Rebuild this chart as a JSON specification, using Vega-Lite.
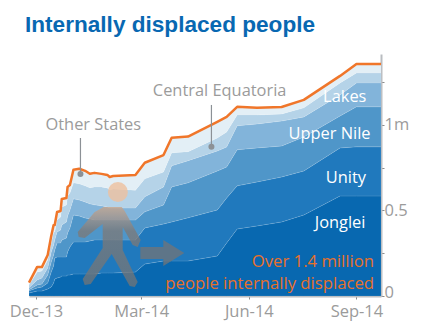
{
  "$schema": "https://vega.github.io/schema/vega-lite/v6.json",
  "autosize": {"type": "none"},
  "width": 352,
  "height": 242,
  "padding": {"left": 29, "top": 54, "right": 46, "bottom": 31},
  "background": "white",
  "title": {
    "text": "Internally displaced people",
    "anchor": "start",
    "frame": "group",
    "dx": -4,
    "offset": 17,
    "font": "Liberation Sans",
    "fontWeight": "bold",
    "fontSize": 22.6,
    "color": "#0868b2"
  },
  "config": {"view": {"stroke": null}},
  "datasets": {
    "states": [
      {"date": "2013-11-25", "Jonglei": 18, "Unity": 12, "Upper Nile": 6, "Lakes": 12, "Central Equatoria": 18, "Other States": 12},
      {"date": "2013-12-02", "Jonglei": 29, "Unity": 18, "Upper Nile": 18, "Lakes": 29, "Central Equatoria": 47, "Other States": 29},
      {"date": "2013-12-06", "Jonglei": 29, "Unity": 23, "Upper Nile": 18, "Lakes": 35, "Central Equatoria": 41, "Other States": 23},
      {"date": "2013-12-11", "Jonglei": 41, "Unity": 35, "Upper Nile": 47, "Lakes": 41, "Central Equatoria": 47, "Other States": 29},
      {"date": "2013-12-14", "Jonglei": 53, "Unity": 88, "Upper Nile": 58, "Lakes": 58, "Central Equatoria": 53, "Other States": 41},
      {"date": "2013-12-16", "Jonglei": 76, "Unity": 99, "Upper Nile": 64, "Lakes": 58, "Central Equatoria": 76, "Other States": 41},
      {"date": "2013-12-17", "Jonglei": 99, "Unity": 123, "Upper Nile": 47, "Lakes": 58, "Central Equatoria": 47, "Other States": 41},
      {"date": "2013-12-19", "Jonglei": 105, "Unity": 123, "Upper Nile": 82, "Lakes": 64, "Central Equatoria": 70, "Other States": 47},
      {"date": "2013-12-22", "Jonglei": 111, "Unity": 117, "Upper Nile": 82, "Lakes": 76, "Central Equatoria": 76, "Other States": 35},
      {"date": "2013-12-23", "Jonglei": 117, "Unity": 111, "Upper Nile": 99, "Lakes": 88, "Central Equatoria": 105, "Other States": 47},
      {"date": "2013-12-27", "Jonglei": 117, "Unity": 111, "Upper Nile": 111, "Lakes": 94, "Central Equatoria": 99, "Other States": 41},
      {"date": "2013-12-28", "Jonglei": 123, "Unity": 135, "Upper Nile": 111, "Lakes": 99, "Central Equatoria": 117, "Other States": 53},
      {"date": "2013-12-30", "Jonglei": 123, "Unity": 164, "Upper Nile": 111, "Lakes": 105, "Central Equatoria": 99, "Other States": 47},
      {"date": "2014-01-02", "Jonglei": 129, "Unity": 187, "Upper Nile": 158, "Lakes": 94, "Central Equatoria": 94, "Other States": 76},
      {"date": "2014-01-07", "Jonglei": 129, "Unity": 187, "Upper Nile": 152, "Lakes": 94, "Central Equatoria": 94, "Other States": 88},
      {"date": "2014-01-12", "Jonglei": 129, "Unity": 187, "Upper Nile": 140, "Lakes": 94, "Central Equatoria": 94, "Other States": 88},
      {"date": "2014-01-16", "Jonglei": 129, "Unity": 193, "Upper Nile": 129, "Lakes": 88, "Central Equatoria": 94, "Other States": 82},
      {"date": "2014-01-20", "Jonglei": 129, "Unity": 199, "Upper Nile": 117, "Lakes": 88, "Central Equatoria": 105, "Other States": 82},
      {"date": "2014-01-26", "Jonglei": 135, "Unity": 193, "Upper Nile": 117, "Lakes": 82, "Central Equatoria": 111, "Other States": 76},
      {"date": "2014-01-31", "Jonglei": 135, "Unity": 193, "Upper Nile": 117, "Lakes": 76, "Central Equatoria": 111, "Other States": 76},
      {"date": "2014-02-02", "Jonglei": 135, "Unity": 193, "Upper Nile": 117, "Lakes": 70, "Central Equatoria": 105, "Other States": 76},
      {"date": "2014-02-05", "Jonglei": 135, "Unity": 193, "Upper Nile": 117, "Lakes": 70, "Central Equatoria": 111, "Other States": 76},
      {"date": "2014-02-24", "Jonglei": 140, "Unity": 187, "Upper Nile": 117, "Lakes": 70, "Central Equatoria": 105, "Other States": 88},
      {"date": "2014-03-04", "Jonglei": 187, "Unity": 211, "Upper Nile": 94, "Lakes": 88, "Central Equatoria": 105, "Other States": 94},
      {"date": "2014-03-20", "Jonglei": 205, "Unity": 216, "Upper Nile": 111, "Lakes": 105, "Central Equatoria": 88, "Other States": 99},
      {"date": "2014-03-27", "Jonglei": 205, "Unity": 228, "Upper Nile": 205, "Lakes": 123, "Central Equatoria": 76, "Other States": 88},
      {"date": "2014-04-10", "Jonglei": 205, "Unity": 252, "Upper Nile": 205, "Lakes": 129, "Central Equatoria": 53, "Other States": 88},
      {"date": "2014-05-05", "Jonglei": 234, "Unity": 269, "Upper Nile": 228, "Lakes": 117, "Central Equatoria": 76, "Other States": 94},
      {"date": "2014-05-13", "Jonglei": 310, "Unity": 263, "Upper Nile": 181, "Lakes": 117, "Central Equatoria": 88, "Other States": 88},
      {"date": "2014-05-22", "Jonglei": 392, "Unity": 252, "Upper Nile": 211, "Lakes": 140, "Central Equatoria": 64, "Other States": 47},
      {"date": "2014-06-08", "Jonglei": 410, "Unity": 257, "Upper Nile": 199, "Lakes": 140, "Central Equatoria": 53, "Other States": 41},
      {"date": "2014-06-29", "Jonglei": 433, "Unity": 263, "Upper Nile": 181, "Lakes": 146, "Central Equatoria": 41, "Other States": 41},
      {"date": "2014-07-18", "Jonglei": 474, "Unity": 257, "Upper Nile": 199, "Lakes": 117, "Central Equatoria": 53, "Other States": 47},
      {"date": "2014-08-18", "Jonglei": 585, "Unity": 281, "Upper Nile": 187, "Lakes": 123, "Central Equatoria": 70, "Other States": 41},
      {"date": "2014-09-01", "Jonglei": 585, "Unity": 287, "Upper Nile": 234, "Lakes": 140, "Central Equatoria": 58, "Other States": 53},
      {"date": "2014-09-22", "Jonglei": 585, "Unity": 287, "Upper Nile": 234, "Lakes": 140, "Central Equatoria": 58, "Other States": 53}
    ],
    "stackOrder": [
      {"state": "Jonglei", "rank": 1},
      {"state": "Unity", "rank": 2},
      {"state": "Upper Nile", "rank": 3},
      {"state": "Lakes", "rank": 4},
      {"state": "Central Equatoria", "rank": 5},
      {"state": "Other States", "rank": 6}
    ]
  },
  "encoding": {
    "x": {
      "field": "date",
      "type": "temporal",
      "scale": {"domain": ["2013-11-25", "2014-09-22"]},
      "axis": {
        "title": null,
        "grid": false,
        "values": ["2013-12-01", "2014-03-01", "2014-06-01", "2014-09-01"],
        "format": "%b-%y",
        "labelFont": "Open Sans",
        "labelFontSize": 16.5,
        "labelColor": "#9b9b9b",
        "labelPadding": 4,
        "labelFlush": false,
        "labelBound": false,
        "domainColor": "#b9bcc0",
        "domainWidth": 2,
        "tickColor": "#8a8a8a",
        "tickSize": 3
      }
    }
  },
  "layer": [
    {
      "data": {"name": "states"},
      "transform": [
        {"fold": ["Jonglei", "Unity", "Upper Nile", "Lakes", "Central Equatoria", "Other States"], "as": ["state", "people"]},
        {"lookup": "state", "from": {"data": {"name": "stackOrder"}, "key": "state", "fields": ["rank"]}}
      ],
      "mark": {"type": "area", "interpolate": "linear", "stroke": "#ffffff", "strokeOpacity": 0.2, "strokeWidth": 0.5},
      "encoding": {
        "y": {
          "field": "people",
          "type": "quantitative",
          "stack": "zero",
          "scale": {"domain": [0, 1415], "nice": false},
          "axis": {
            "title": null,
            "orient": "right",
            "grid": false,
            "values": [0, 250, 500, 750, 1000, 1250],
            "labelExpr": "datum.value === 0 ? '0' : datum.value === 500 ? '0.5' : datum.value === 1000 ? '1m' : ''",
            "labelFont": "Open Sans",
            "labelFontSize": 16.5,
            "labelColor": "#9b9b9b",
            "labelPadding": 0,
            "labelOverlap": false,
            "labelOffset": {"condition": {"test": "datum.value === 0", "value": -4}, "value": 0},
            "domainColor": "#b9bcc0",
            "domainWidth": 2,
            "tickColor": "#8a8a8a",
            "tickSize": 3
          }
        },
        "color": {
          "field": "state",
          "type": "nominal",
          "legend": null,
          "scale": {
            "domain": ["Jonglei", "Unity", "Upper Nile", "Lakes", "Central Equatoria", "Other States"],
            "range": ["#0868b0", "#2079bd", "#4f96c9", "#82b4da", "#b5d3e8", "#e3eff6"]
          }
        },
        "order": {"field": "rank", "type": "ordinal"}
      }
    },
    {
      "data": {"name": "states"},
      "transform": [
        {"fold": ["Jonglei", "Unity", "Upper Nile", "Lakes", "Central Equatoria", "Other States"], "as": ["state", "people"]},
        {"aggregate": [{"op": "sum", "field": "people", "as": "total"}], "groupby": ["date"]}
      ],
      "mark": {"type": "line", "color": "#f0762a", "strokeWidth": 2.5, "strokeJoin": "round"},
      "encoding": {
        "y": {"field": "total", "type": "quantitative"}
      }
    },
    {
      "data": {"values": [{"date": "2014-02-09", "people": 608}]},
      "mark": {"type": "point", "shape": "circle", "filled": true, "size": 400, "color": "#eec19f", "opacity": 0.8},
      "encoding": {"y": {"field": "people", "type": "quantitative"}}
    },
    {
      "data": {"values": [{"date": "2014-02-02", "people": 298}]},
      "mark": {
        "type": "point",
        "filled": true,
        "size": 10000,
        "fill": {
          "gradient": "linear",
          "x1": 0, "y1": 0, "x2": 0, "y2": 1,
          "stops": [
            {"offset": 0, "color": "#c9a58a"},
            {"offset": 0.14, "color": "#a2938a"},
            {"offset": 0.3, "color": "#7c7a7a"},
            {"offset": 1, "color": "#6f7478"}
          ]
        },
        "stroke": null,
        "opacity": 0.78,
        "shape": "M-0.12,-0.76L0.24,-0.76L0.30,-0.68L0.62,-0.10L0.56,0.04L0.46,0L0.26,-0.36L0.26,0.10L0.56,0.74L0.50,0.84L0.40,0.82L0.04,0.18L-0.38,0.78L-0.50,0.80L-0.54,0.68L-0.14,0.06L-0.14,-0.42L-0.50,-0.14L-0.62,-0.16L-0.64,-0.26L-0.30,-0.66Z"
      },
      "encoding": {"y": {"field": "people", "type": "quantitative"}}
    },
    {
      "data": {"values": [{"date": "2014-03-19", "people": 252}]},
      "mark": {
        "type": "point",
        "filled": true,
        "size": 2500,
        "color": "#6f7478",
        "opacity": 0.78,
        "shape": "M-0.88,-0.24L0.04,-0.24L0.04,-0.52L0.88,0L0.04,0.52L0.04,0.24L-0.88,0.24Z"
      },
      "encoding": {"y": {"field": "people", "type": "quantitative"}}
    },
    {
      "data": {"values": [
        {"date": "2014-01-08", "top": 924, "foot": 714},
        {"date": "2014-04-30", "top": 1117, "foot": 872}
      ]},
      "layer": [
        {
          "mark": {"type": "rule", "color": "#8c9196", "strokeWidth": 1.2},
          "encoding": {
            "y": {"field": "top", "type": "quantitative"},
            "y2": {"field": "foot"}
          }
        },
        {
          "mark": {"type": "point", "shape": "circle", "filled": true, "size": 36, "color": "#8c9196", "opacity": 1},
          "encoding": {"y": {"field": "foot", "type": "quantitative"}}
        }
      ]
    },
    {
      "data": {"values": [
        {"date": "2014-08-22", "people": 1164, "label": "Lakes"},
        {"date": "2014-08-09", "people": 948, "label": "Upper Nile"},
        {"date": "2014-08-23", "people": 690, "label": "Unity"},
        {"date": "2014-08-18", "people": 427, "label": "Jonglei"}
      ]},
      "mark": {"type": "text", "font": "Open Sans", "fontSize": 16.4, "color": "#ffffff", "align": "center", "baseline": "middle"},
      "encoding": {
        "y": {"field": "people", "type": "quantitative"},
        "text": {"field": "label"}
      }
    },
    {
      "data": {"values": [
        {"date": "2014-01-19", "people": 1000, "label": "Other States"},
        {"date": "2014-05-07", "people": 1199, "label": "Central Equatoria"}
      ]},
      "mark": {"type": "text", "font": "Open Sans", "fontSize": 16.4, "color": "#9b9b9b", "align": "center", "baseline": "middle"},
      "encoding": {
        "y": {"field": "people", "type": "quantitative"},
        "text": {"field": "label"}
      }
    },
    {
      "data": {"values": [
        {"date": "2014-09-16", "people": 199, "label": "Over 1.4 million"},
        {"date": "2014-09-16", "people": 70, "label": "people internally displaced"}
      ]},
      "mark": {"type": "text", "font": "Open Sans", "fontSize": 16.7, "color": "#e8702a", "align": "right", "baseline": "middle"},
      "encoding": {
        "y": {"field": "people", "type": "quantitative"},
        "text": {"field": "label"}
      }
    }
  ]
}
